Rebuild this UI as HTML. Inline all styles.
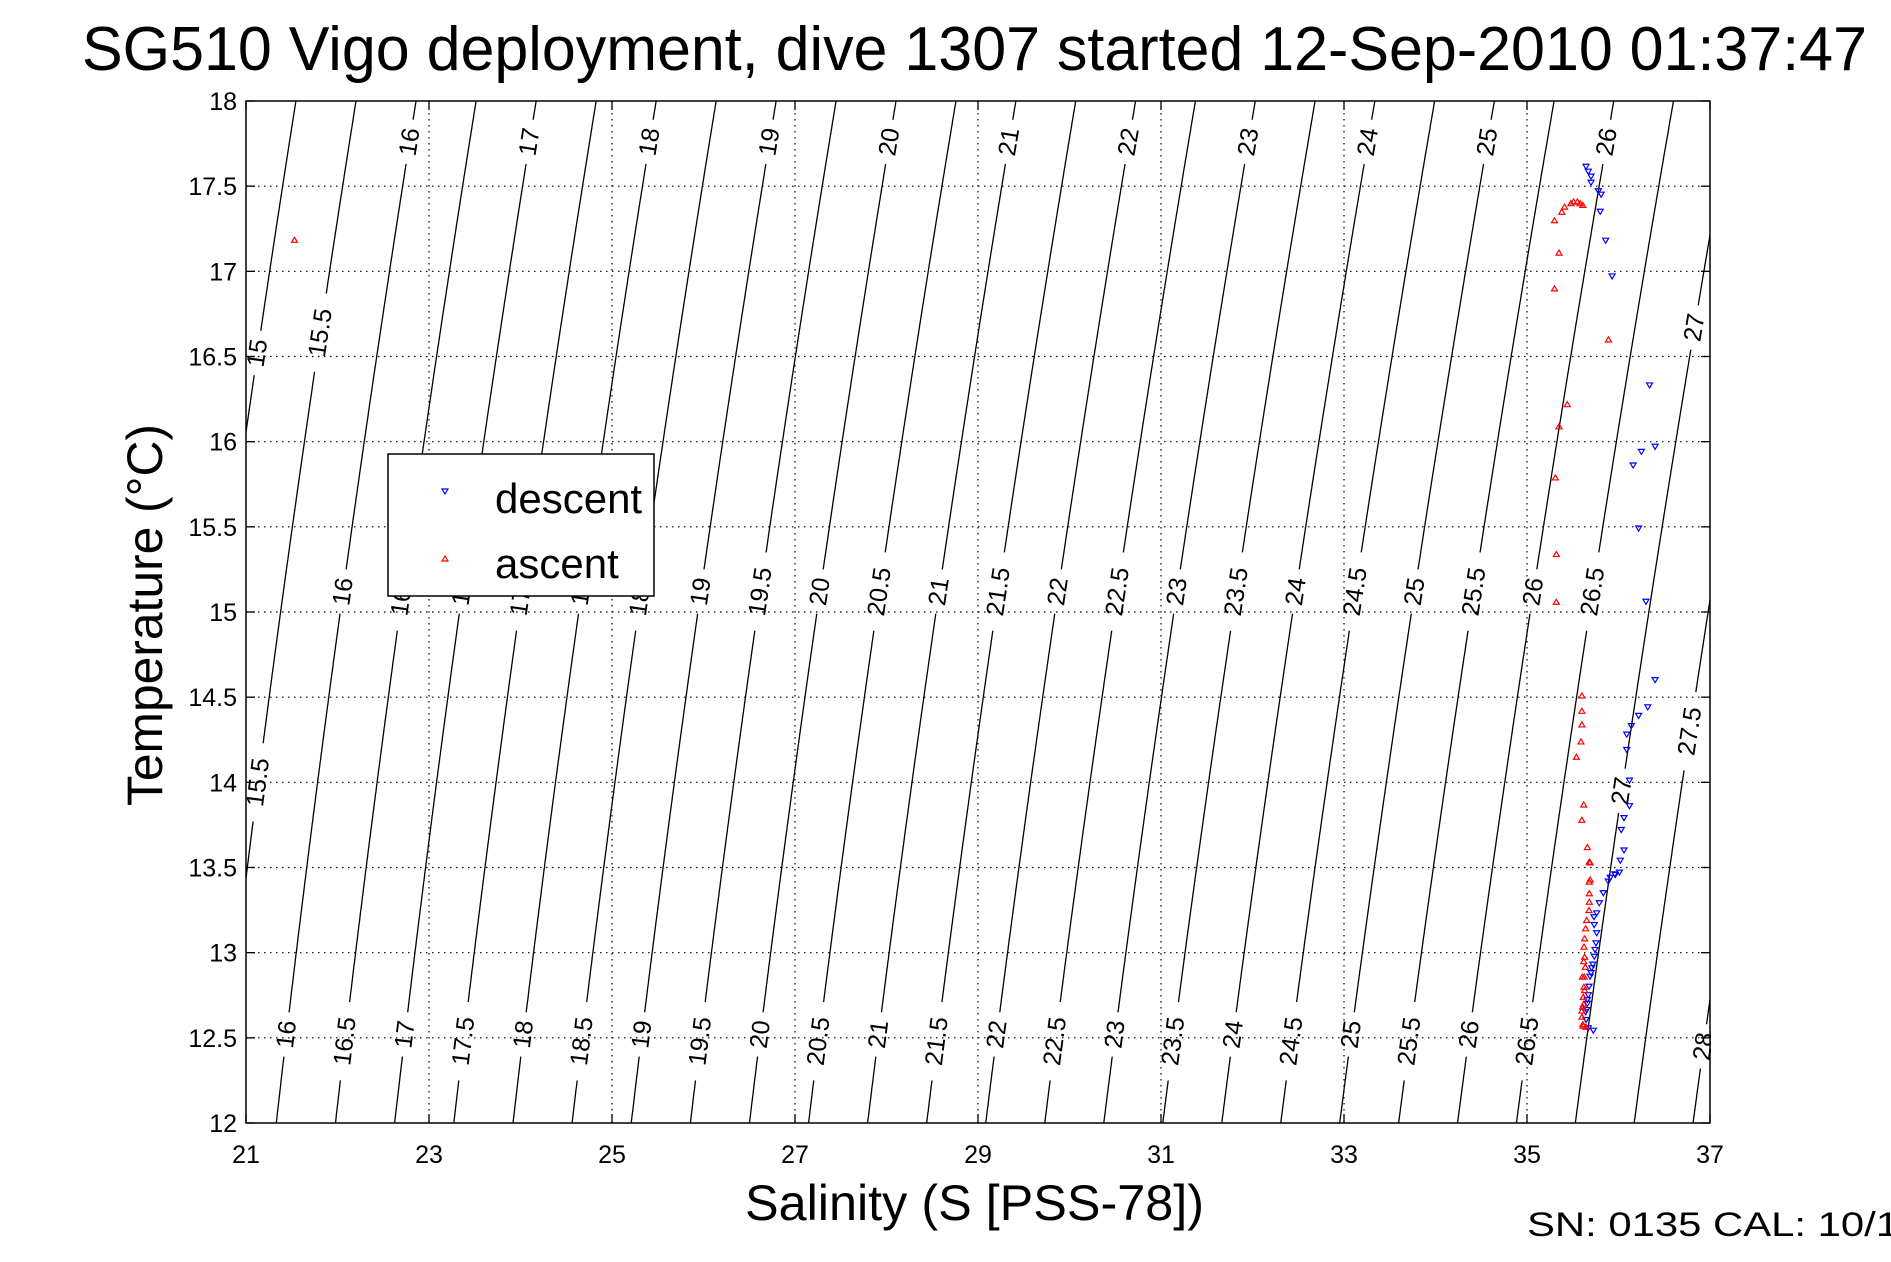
<!DOCTYPE html>
<html><head><meta charset="utf-8"><style>
html,body{margin:0;padding:0;background:#fff;}
svg{display:block;font-family:"Liberation Sans",Arial,sans-serif;}
</style></head><body>
<svg id="chart" width="1891" height="1262" viewBox="0 0 1891 1262" xmlns="http://www.w3.org/2000/svg">
<rect width="1891" height="1262" fill="#fff"/>
<text x="82" y="70" font-size="62" textLength="1785" lengthAdjust="spacingAndGlyphs">SG510 Vigo deployment, dive 1307 started 12-Sep-2010 01:37:47</text>
<g id="grid"></g><g id="contours"></g><g id="points"></g><g id="axes"></g>
<text x="745" y="1220" font-size="50" textLength="459" lengthAdjust="spacingAndGlyphs">Salinity (S [PSS-78])</text>
<text transform="translate(162,806) rotate(-90)" x="0" y="0" font-size="50" textLength="382" lengthAdjust="spacingAndGlyphs">Temperature (°C)</text>
<text x="1527" y="1236" font-size="34" textLength="372" lengthAdjust="spacingAndGlyphs">SN: 0135  CAL: 10/1</text>
<g>
<rect x="388" y="454" width="266" height="142" fill="#fff" stroke="#000" stroke-width="1.5"/>
<path d="M442,489 L448,489 L445,494 Z" fill="none" stroke="#00f" stroke-width="1.2"/>
<text x="495" y="513" font-size="42">descent</text>
<path d="M442,561 L448,561 L445,556 Z" fill="none" stroke="#f00" stroke-width="1.2"/>
<text x="495" y="578" font-size="42">ascent</text>
</g>
</svg>
<script>
const xTicks=[21,23,25,27,29,31,33,35,37];
const yTicks=[12,12.5,13,13.5,14,14.5,15,15.5,16,16.5,17,17.5,18];
const sigmaLevels=[15,15.5,16,16.5,17,17.5,18,18.5,19,19.5,20,20.5,21,21.5,22,22.5,23,23.5,24,24.5,25,25.5,26,26.5,27,27.5,28];
const labelSigma=[15,15.5,16,17,18,19,20,21,22,23,24,25,26,27,
 16,16.5,17,17.5,18,18.5,19,19.5,20,20.5,21,21.5,22,22.5,23,23.5,24,24.5,25,25.5,26,26.5,27,27.5,
 15.5,16,16.5,17,17.5,18,18.5,19,19.5,20,20.5,21,21.5,22,22.5,23,23.5,24,24.5,25,25.5,26,26.5,28];
const labelTemp=[16.52,16.64,17.76,17.76,17.76,17.76,17.76,17.76,17.76,17.76,17.76,17.76,17.76,16.67,
 15.12,15.12,15.12,15.12,15.12,15.12,15.12,15.12,15.12,15.12,15.12,15.12,15.12,15.12,15.12,15.12,15.12,15.12,15.12,15.12,15.12,15.12,13.95,14.3,
 14.0,12.52,12.48,12.52,12.48,12.52,12.48,12.52,12.48,12.52,12.48,12.52,12.48,12.52,12.48,12.52,12.48,12.52,12.48,12.52,12.48,12.52,12.48,12.45];
const descentS=[35.645,35.67,35.70,35.70,35.78,35.81,35.80,35.86,35.93,36.34,36.40,36.25,36.16,36.22,36.30,36.40,36.32,36.22,36.14,36.09,36.09,36.12,36.12,36.06,36.03,36.06,36.02,36.01,35.96,35.91,
 35.965,35.888,35.834,35.790,35.762,35.732,35.735,35.762,35.754,35.743,35.735,35.707,35.689,35.678,35.659,35.652,35.645,35.670,35.725,35.66,35.67,35.70,35.72,35.64];
const descentT=[17.614,17.585,17.556,17.52,17.47,17.45,17.35,17.18,16.97,16.33,15.97,15.94,15.86,15.49,15.06,14.60,14.44,14.39,14.33,14.28,14.19,14.01,13.86,13.79,13.72,13.60,13.54,13.47,13.46,13.44,
 13.456,13.417,13.349,13.290,13.231,13.208,13.162,13.114,13.055,13.016,12.976,12.908,12.859,12.800,12.722,12.663,12.605,12.556,12.542,12.70,12.75,12.88,12.93,12.65];
const ascentS=[21.53,35.30,35.38,35.41,35.48,35.51,35.55,35.58,35.61,35.35,35.30,35.89,35.44,35.35,35.31,35.32,35.32,35.60,35.60,35.60,35.59,35.54,35.62,35.60,35.66,35.69,35.69,
 35.681,35.681,35.681,35.681,35.678,35.652,35.641,35.630,35.623,35.630,35.637,35.626,35.623,35.615,35.608,35.601,35.615,35.645,35.62,35.60,35.63,35.61,35.605,35.62];
const ascentT=[17.185,17.30,17.35,17.38,17.40,17.41,17.41,17.40,17.39,17.11,16.90,16.60,16.22,16.09,15.79,15.34,15.06,14.51,14.42,14.34,14.24,14.15,13.87,13.78,13.62,13.53,13.43,
 13.534,13.417,13.349,13.299,13.250,13.192,13.143,13.084,13.035,12.976,12.917,12.859,12.800,12.741,12.683,12.624,12.571,12.565,12.70,12.66,12.78,12.58,12.86,12.95];

const L=246,R=1710,TOP=101,BOT=1123,SMIN=21,SMAX=37,TMIN=12,TMAX=18;
const NS='http://www.w3.org/2000/svg';
function xS(s){return L+(s-SMIN)/(SMAX-SMIN)*(R-L);}
function yT(t){return BOT-(t-TMIN)/(TMAX-TMIN)*(BOT-TOP);}
function mk(tag,attrs,parent){const e=document.createElementNS(NS,tag);for(const k in attrs)e.setAttribute(k,attrs[k]);parent.appendChild(e);return e;}
function sigma(S,T){
 const rw=999.842594+6.793952e-2*T-9.095290e-3*T*T+1.001685e-4*T**3-1.120083e-6*T**4+6.536332e-9*T**5;
 const r=rw+S*(0.824493-4.0899e-3*T+7.6438e-5*T*T-8.2467e-7*T**3+5.3875e-9*T**4)+Math.pow(S,1.5)*(-5.72466e-3+1.0227e-4*T-1.6546e-6*T*T)+4.8314e-4*S*S;
 return r-1000;}
function solveS(sig,T){let a=0,b=45;for(let i=0;i<60;i++){const m=(a+b)/2;if(sigma(m,T)<sig)a=m;else b=m;}return (a+b)/2;}

const grid=document.getElementById('grid');
xTicks.slice(1,-1).forEach(s=>{const l=mk('line',{x1:xS(s),x2:xS(s),y1:TOP,y2:BOT,stroke:'#000','stroke-width':1.2,'stroke-dasharray':'1.5,4.5'},grid);

});
yTicks.slice(1,-1).forEach(t=>{const l=mk('line',{x1:L,x2:R,y1:yT(t),y2:yT(t),stroke:'#000','stroke-width':1.2,'stroke-dasharray':'1.5,4.5'},grid);

});

const cg=document.getElementById('contours');
const ppu=(BOT-TOP)/(TMAX-TMIN);
sigmaLevels.forEach(sig=>{
 const gaps=[];
 labelSigma.forEach((ls,i)=>{if(ls===sig){const n=String(ls).length;gaps.push([labelTemp[i],(n*8+6)/ppu]);}});
 let segs=[],cur=[];
 for(let t=TMIN;t<=TMAX+1e-9;t+=0.01){
  const s=solveS(sig,t);const inGap=gaps.some(g=>Math.abs(t-g[0])<g[1]);
  const ok=!inGap&&s>=SMIN&&s<=SMAX;
  if(ok)cur.push(xS(s).toFixed(1)+','+yT(t).toFixed(1));else{if(cur.length>1)segs.push(cur);cur=[];}
 }
 if(cur.length>1)segs.push(cur);
 segs.forEach(sg=>{const p=mk('polyline',{points:sg.join(' '),fill:'none',stroke:'#000','stroke-width':1.3},cg);
 
 });
});
labelSigma.forEach((sig,i)=>{
 const t=labelTemp[i];const s=solveS(sig,t);const x=xS(s),y=yT(t);
 if(x<L-5||x>R+15)return;
 const x2=xS(solveS(sig,t+0.2)),y2=yT(t+0.2);
 const ang=Math.atan2(y2-y,x2-x)*180/Math.PI;
 const tx=mk('text',{x:0,y:0,'font-size':25,'text-anchor':'middle','dominant-baseline':'central',transform:`translate(${x.toFixed(1)},${y.toFixed(1)}) rotate(${ang.toFixed(1)})`},cg);
 tx.textContent=String(sig);
 
 
});
const cp=mk('clipPath',{id:'box'},document.getElementById('chart'));mk('rect',{x:L,y:TOP-2,width:R-L+1,height:BOT-TOP+2},cp);
cg.setAttribute('clip-path','url(#box)');

const pg=document.getElementById('points');
descentS.forEach((s,i)=>{const x=xS(s),y=yT(descentT[i]);
 const p=mk('path',{d:`M${x-3},${y-2.5} L${x+3},${y-2.5} L${x},${y+2.5} Z`,fill:'none',stroke:'#00f','stroke-width':1.2},pg);
 
 });
ascentS.forEach((s,i)=>{const x=xS(s),y=yT(ascentT[i]);
 const p=mk('path',{d:`M${x-3},${y+2.5} L${x+3},${y+2.5} L${x},${y-2.5} Z`,fill:'none',stroke:'#f00','stroke-width':1.2},pg);
 
 });

const ax=document.getElementById('axes');
const box=mk('rect',{x:L,y:TOP,width:R-L,height:BOT-TOP,fill:'none',stroke:'#000','stroke-width':1.5},ax);


xTicks.forEach(s=>{
 mk('line',{x1:xS(s),x2:xS(s),y1:BOT,y2:BOT-9,stroke:'#000','stroke-width':1.3},ax);
 mk('line',{x1:xS(s),x2:xS(s),y1:TOP,y2:TOP+9,stroke:'#000','stroke-width':1.3},ax);
 const t=mk('text',{x:xS(s),y:1163,'font-size':25,'text-anchor':'middle'},ax);t.textContent=s;
 
 });
yTicks.forEach(v=>{
 mk('line',{x1:L,x2:L+9,y1:yT(v),y2:yT(v),stroke:'#000','stroke-width':1.3},ax);
 mk('line',{x1:R,x2:R-9,y1:yT(v),y2:yT(v),stroke:'#000','stroke-width':1.3},ax);
 const t=mk('text',{x:237,y:yT(v)+9,'font-size':25,'text-anchor':'end'},ax);t.textContent=v;
 
 });
</script>
</body></html>
